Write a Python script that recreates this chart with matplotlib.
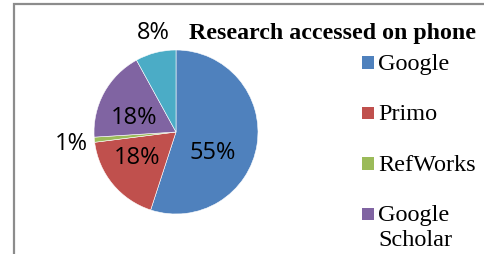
import numpy as np
import matplotlib.pyplot as plt
from matplotlib.patches import Rectangle

# datos
categories = ['Google', 'Primo', 'RefWorks', 'Google\nScholar', 'Other']
shares = [55, 18, 1, 18, 8]
colors = ['#4f81bd', '#c0504d', '#9bbb59', '#8064a2', '#4bacc6']
legend_n = 4  # la leyenda solo muestra las primeras cuatro
title = 'Research accessed on phone'

# posición de etiquetas (radio, ángulo en grados)
label_pos = [(0.52, -29.6), (0.57, -146.3), (1.29, -173.5), (0.54, 161.6), (1.24, 103.0)]

W, H = 484, 254
fig = plt.figure(figsize=(W / 100, H / 100), dpi=100)


def fx(px):
    return px / W


def fy(py):
    # py medido desde arriba
    return 1 - py / H


# marco gris
fig.patches.append(Rectangle((fx(13.5), -0.1), 1.2, fy(4.5) + 0.1,
                             transform=fig.transFigure, fill=False,
                             edgecolor='#8c8c8c', linewidth=1.6))

# ejes del pie: centro (176,132) px, radio 82 px
cx, cy, r = 176, 132, 82
ax = fig.add_axes([fx(cx - r), fy(cy + r), 2 * r / W, 2 * r / H])
wedges, _ = ax.pie(shares, colors=colors, startangle=90, counterclock=False,
                   radius=1.0, wedgeprops=dict(edgecolor='white', linewidth=0.4))
ax.set_xlim(-1, 1)
ax.set_ylim(-1, 1)
ax.set_aspect('equal')
ax.axis('off')

for v, (rr, ang) in zip(shares, label_pos):
    a = np.deg2rad(ang)
    ax.text(rr * np.cos(a), rr * np.sin(a), f'{v}%', ha='center', va='center',
            fontsize=17, family='Open Sans', color='black', clip_on=False)

fig.text(fx(476), fy(33), title, ha='right', va='center',
         fontsize=17.2, fontweight='bold', family='Liberation Serif')

# leyenda manual (marcador alineado con la primera línea)
base0, step, line_h = 70, 50.5, 24.5
for i, (name, c) in enumerate(zip(categories[:legend_n], colors[:legend_n])):
    base = base0 + i * step
    fig.patches.append(Rectangle((fx(361.5), fy(base - 1.5)), 12.5 / W, 12.5 / H,
                                 transform=fig.transFigure, facecolor=c,
                                 edgecolor='none'))
    for j, line in enumerate(name.split('\n')):
        fig.text(fx(378), fy(base + j * line_h), line, ha='left', va='baseline',
                 fontsize=17.5, family='Liberation Serif')

fig.savefig('out.png', dpi=100)
